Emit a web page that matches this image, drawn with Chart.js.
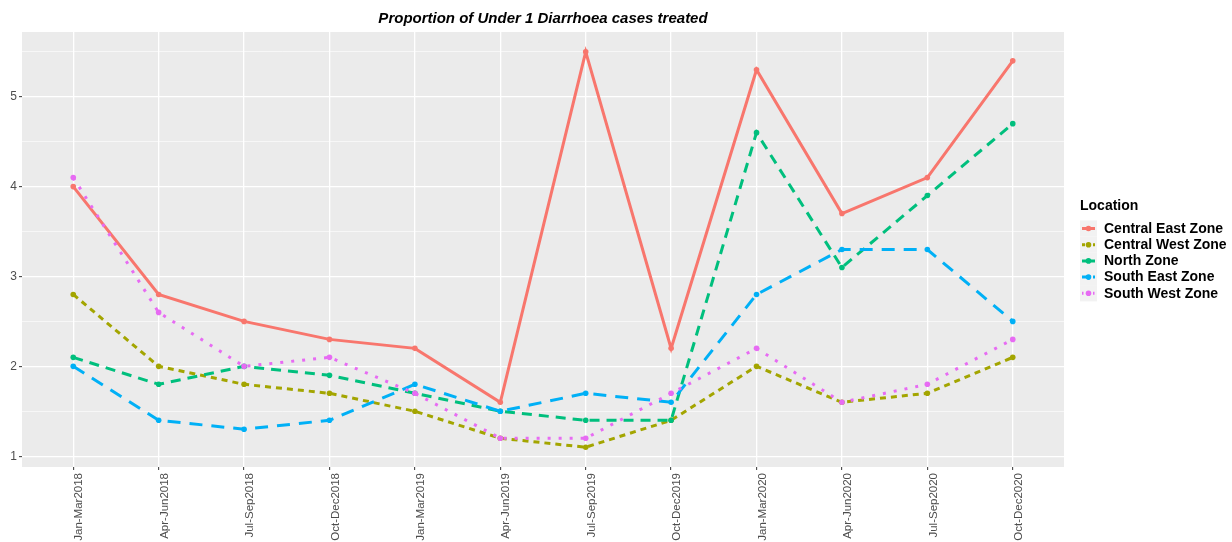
<!DOCTYPE html>
<html>
<head>
<meta charset="utf-8">
<script src="https://cdn.jsdelivr.net/npm/chart.js@4.4.1/dist/chart.umd.min.js"></script>
<style>
  html, body { margin: 0; padding: 0; background: #fff; }
  #wrap { width: 1232px; height: 542px; position: relative; }
</style>
</head>
<body>
<div id="wrap"><canvas id="chart"></canvas></div>
<script>
// ── data ─────────────────────────────────────────
const quarters = ['Jan-Mar2018', 'Apr-Jun2018', 'Jul-Sep2018', 'Oct-Dec2018',
  'Jan-Mar2019', 'Apr-Jun2019', 'Jul-Sep2019', 'Oct-Dec2019',
  'Jan-Mar2020', 'Apr-Jun2020', 'Jul-Sep2020', 'Oct-Dec2020'];
const centralEast = [4.0, 2.8, 2.5, 2.3, 2.2, 1.6, 5.5, 2.2, 5.3, 3.7, 4.1, 5.4];
const centralWest = [2.8, 2.0, 1.8, 1.7, 1.5, 1.2, 1.1, 1.4, 2.0, 1.6, 1.7, 2.1];
const northZone   = [2.1, 1.8, 2.0, 1.9, 1.7, 1.5, 1.4, 1.4, 4.6, 3.1, 3.9, 4.7];
const southEast   = [2.0, 1.4, 1.3, 1.4, 1.8, 1.5, 1.7, 1.6, 2.8, 3.3, 3.3, 2.5];
const southWest   = [4.1, 2.6, 2.0, 2.1, 1.7, 1.2, 1.2, 1.7, 2.2, 1.6, 1.8, 2.3];
const zoneNames = ['Central East Zone', 'Central West Zone', 'North Zone', 'South East Zone', 'South West Zone'];
const yTicks = [1, 2, 3, 4, 5];

const TITLE = 'Proportion of Under 1 Diarrhoea cases treated';
const LEGEND_TITLE = 'Location';

// ggplot hue palette + line types
const ZONE_COLORS = ['#F8766D', '#A3A500', '#00BF7D', '#00B0F6', '#E76BF3'];
const ZONE_DASH = [[], [6, 5], [10, 7], [13, 9], [3, 8]];
const FONT = "'Liberation Sans', Arial, sans-serif";

const seriesValues = [centralEast, centralWest, northZone, southEast, southWest];

const datasets = seriesValues.map((vals, i) => ({
  label: zoneNames[i],
  data: vals.map((v, j) => ({ x: j, y: v })),
  borderColor: ZONE_COLORS[i],
  backgroundColor: ZONE_COLORS[i],
  borderWidth: 3,
  borderDash: ZONE_DASH[i],
  borderCapStyle: 'butt',
  pointRadius: 2.8,
  pointBorderWidth: 0,
  pointBackgroundColor: ZONE_COLORS[i],
  tension: 0,
  fill: false,
  order: seriesValues.length - i,
}));

// ── plugins ──────────────────────────────────────
const panelBg = {
  id: 'panelBg',
  beforeDraw(chart) {
    const { ctx, chartArea: a } = chart;
    ctx.save();
    ctx.fillStyle = '#EBEBEB';
    ctx.fillRect(a.left, a.top, a.right - a.left, a.bottom - a.top);
    ctx.restore();
  }
};

const titleAndLegend = {
  id: 'titleAndLegend',
  afterDraw(chart) {
    const { ctx, chartArea: a } = chart;
    ctx.save();
    // title
    ctx.font = `italic bold 15px ${FONT}`;
    ctx.fillStyle = '#000';
    ctx.textAlign = 'center';
    ctx.textBaseline = 'middle';
    ctx.fillText(TITLE, (a.left + a.right) / 2, 19);

    // legend
    const lx = 1080;
    ctx.textAlign = 'left';
    ctx.font = `bold 14px ${FONT}`;
    ctx.fillStyle = '#000';
    ctx.fillText(LEGEND_TITLE, lx, 206);
    zoneNames.forEach((name, i) => {
      const cy = 228.5 + i * 16.2;
      ctx.fillStyle = '#F2F2F2';
      ctx.fillRect(lx, cy - 8.1, 17, 16.2);
      ctx.strokeStyle = ZONE_COLORS[i];
      ctx.lineWidth = 3;
      ctx.setLineDash(ZONE_DASH[i].map(d => d * 0.5));
      ctx.beginPath();
      ctx.moveTo(lx + 2, cy);
      ctx.lineTo(lx + 15, cy);
      ctx.stroke();
      ctx.setLineDash([]);
      ctx.fillStyle = ZONE_COLORS[i];
      ctx.beginPath();
      ctx.arc(lx + 8.5, cy, 2.8, 0, Math.PI * 2);
      ctx.fill();
      ctx.fillStyle = '#000';
      ctx.font = `bold 14px ${FONT}`;
      ctx.fillText(name, lx + 24, cy + 0.5);
    });
    ctx.restore();
  }
};

// ── chart ────────────────────────────────────────
new Chart(document.getElementById('chart'), {
  type: 'line',
  data: { datasets },
  options: {
    responsive: true,
    maintainAspectRatio: false,
    animation: false,
    layout: { padding: { top: 32, right: 168, left: 0, bottom: 0 } },
    plugins: {
      legend: { display: false },
      tooltip: { enabled: false },
    },
    scales: {
      x: {
        type: 'linear',
        min: -0.6,
        max: quarters.length - 1 + 0.6,
        afterBuildTicks: scale => {
          scale.ticks = quarters.map((q, i) => ({ value: i }));
        },
        afterFit: scale => { scale.height = 75; },
        grid: {
          color: '#FFFFFF',
          lineWidth: 1.3,
          drawTicks: true,
          tickLength: 3,
          tickColor: '#333333',
          tickWidth: 1,
        },
        border: { display: false },
        ticks: {
          autoSkip: false,
          minRotation: 90,
          maxRotation: 90,
          padding: 3,
          labelOffset: 6,
          color: '#4D4D4D',
          font: { family: FONT, size: 11.5 },
          callback: v => quarters[v] ?? '',
        },
      },
      y: {
        type: 'linear',
        min: 0.88,
        max: 5.72,
        afterBuildTicks: scale => {
          const t = [];
          for (let v = 1; v <= 5.5; v += 0.5) t.push({ value: v });
          scale.ticks = t;
        },
        afterFit: scale => { scale.width = 22; },
        grid: {
          color: '#FFFFFF',
          lineWidth: c => (c.tick && c.tick.value % 1 === 0 ? 1.3 : 0.6),
          drawTicks: true,
          tickLength: 3,
          tickColor: c => (c.tick && c.tick.value % 1 === 0 ? '#333333' : 'rgba(0,0,0,0)'),
          tickWidth: 1,
        },
        border: { display: false },
        ticks: {
          padding: 2,
          color: '#4D4D4D',
          font: { family: FONT, size: 12 },
          callback: v => (yTicks.includes(v) ? String(v) : ''),
        },
      },
    },
  },
  plugins: [panelBg, titleAndLegend],
});
</script>
</body>
</html>
